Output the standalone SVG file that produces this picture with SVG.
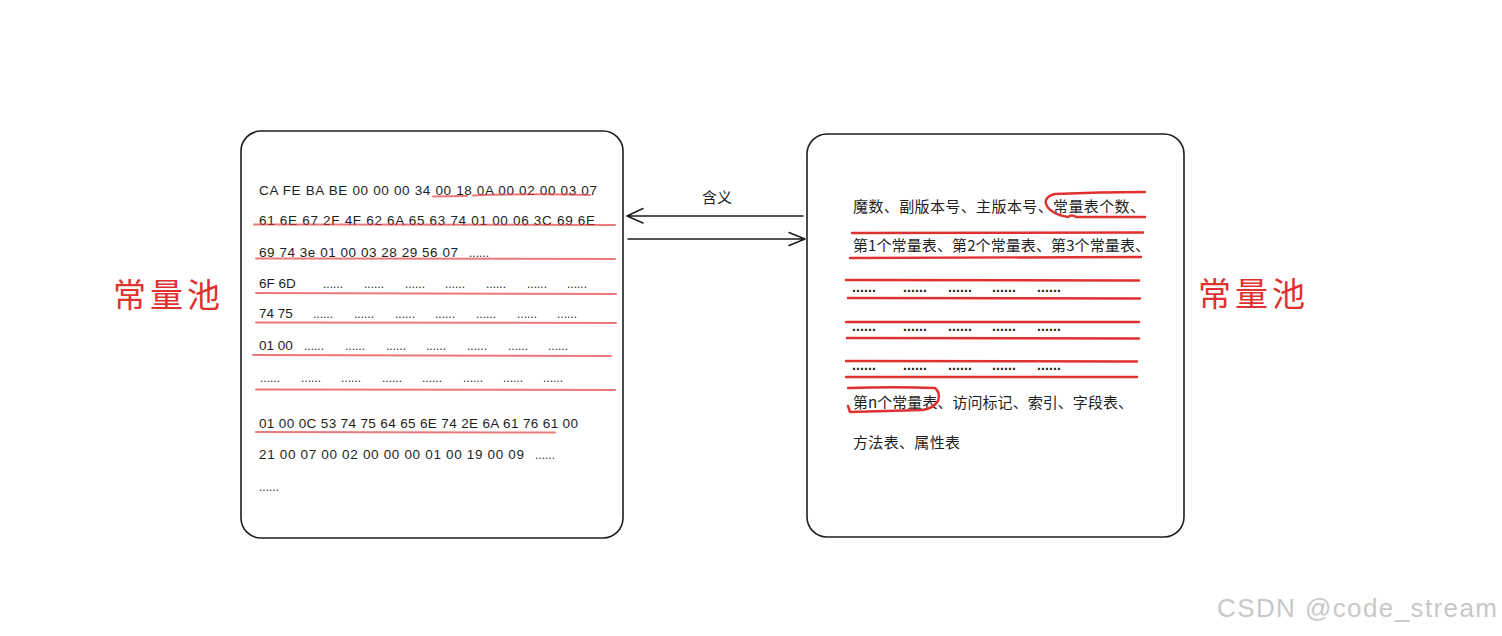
<svg xmlns="http://www.w3.org/2000/svg" width="1502" height="636" viewBox="0 0 1502 636">
<style>
.box{fill:#fff;stroke:#1e1e1e;stroke-width:1.6}
.hex{font-family:"Liberation Sans","Noto Sans CJK SC",sans-serif;font-size:13.5px;fill:#1e1e1e}
.dl{font-family:"Liberation Sans",sans-serif;font-size:12px;fill:#1e1e1e}
.dr{font-family:"Liberation Sans",sans-serif;font-size:14px;font-weight:bold;fill:#1e1e1e}
.cn{font-family:"Noto Sans CJK SC","Noto Sans CJK JP",sans-serif;font-size:15px;fill:#1e1e1e}
.big{font-family:"Noto Sans CJK SC","Noto Sans CJK JP",sans-serif;font-size:33px;fill:#e03131;letter-spacing:4px}
.ul{fill:none;stroke:#e03131;stroke-opacity:0.65;stroke-width:2;stroke-linecap:round}
.ur{fill:none;stroke:#e03131;stroke-width:2.4;stroke-linecap:round;stroke-linejoin:round}
.ar{fill:none;stroke:#1e1e1e;stroke-width:1.5;stroke-linecap:round;stroke-linejoin:round}
.wm{font-family:"Liberation Sans",sans-serif;font-size:26px;fill:#c8c8c8}
</style>
<rect width="1502" height="636" fill="#fff"/>

<g id="left-box">
<rect class="box" x="241" y="131" width="382" height="407" rx="20"/>
<text class="hex" x="259" y="195" textLength="338" lengthAdjust="spacing">CA FE BA BE 00 00 00 34 00 18 0A 00 02 00 03 07</text>
<text class="hex" x="259" y="225" textLength="336" lengthAdjust="spacing">61 6E 67 2F 4F 62 6A 65 63 74 01 00 06 3C 69 6E</text>
<text class="hex" x="259" y="257" textLength="199" lengthAdjust="spacing">69 74 3e 01 00 03 28 29 56 07</text>
<text class="dl" x="469" y="257" textLength="20">......</text>
<text class="hex" x="259" y="288">6F 6D</text>
<g class="dl">
<text x="323" y="288" textLength="20">......</text><text x="364" y="288" textLength="20">......</text><text x="405" y="288" textLength="20">......</text><text x="445" y="288" textLength="20">......</text><text x="486" y="288" textLength="20">......</text><text x="527" y="288" textLength="20">......</text><text x="567" y="288" textLength="20">......</text>
</g>
<text class="hex" x="259" y="318">74 75</text>
<g class="dl">
<text x="313" y="318" textLength="20">......</text><text x="354" y="318" textLength="20">......</text><text x="395" y="318" textLength="20">......</text><text x="435" y="318" textLength="20">......</text><text x="476" y="318" textLength="20">......</text><text x="517" y="318" textLength="20">......</text><text x="557" y="318" textLength="20">......</text>
</g>
<text class="hex" x="259" y="350">01 00</text>
<g class="dl">
<text x="304" y="350" textLength="20">......</text><text x="345" y="350" textLength="20">......</text><text x="386" y="350" textLength="20">......</text><text x="426" y="350" textLength="20">......</text><text x="467" y="350" textLength="20">......</text><text x="508" y="350" textLength="20">......</text><text x="548" y="350" textLength="20">......</text>
</g>
<g class="dl">
<text x="260" y="382" textLength="20">......</text><text x="301" y="382" textLength="20">......</text><text x="341" y="382" textLength="20">......</text><text x="382" y="382" textLength="20">......</text><text x="422" y="382" textLength="20">......</text><text x="463" y="382" textLength="20">......</text><text x="503" y="382" textLength="20">......</text><text x="543" y="382" textLength="20">......</text>
</g>
<text class="hex" x="259" y="428" textLength="319" lengthAdjust="spacing">01 00 0C 53 74 75 64 65 6E 74 2E 6A 61 76 61 00</text>
<text class="hex" x="259" y="459" textLength="265" lengthAdjust="spacing">21 00 07 00 02 00 00 00 01 00 19 00 09</text>
<text class="dl" x="535" y="459" textLength="20">......</text>
<text class="dl" x="259" y="491" textLength="20">......</text>
<g id="left-underlines">
<path class="ul" d="M433 196.5 L467 196"/>
<path class="ul" d="M473 195.5 Q530 193.5 590 195"/>
<path class="ul" d="M254 224.5 L615 225"/>
<path class="ul" d="M256 258.5 L615 259"/>
<path class="ul" d="M256 293 L616 294"/>
<path class="ul" d="M256 322.5 L616 323"/>
<path class="ul" d="M253 355 L611 356"/>
<path class="ul" d="M256 389.5 L615 390"/>
<path class="ul" d="M256 432 L555 432.5"/>
</g>
</g>

<g id="right-box">
<rect class="box" x="807" y="134" width="377" height="403" rx="20"/>
<text class="cn" x="853" y="212" textLength="292" lengthAdjust="spacing">魔数、副版本号、主版本号、常量表个数、</text>
<text class="cn" x="853" y="251" textLength="297" lengthAdjust="spacing">第1个常量表、第2个常量表、第3个常量表、</text>
<g class="dr">
<text x="852" y="292" textLength="24">......</text><text x="903" y="292" textLength="24">......</text><text x="948" y="292" textLength="24">......</text><text x="992" y="292" textLength="24">......</text><text x="1037" y="292" textLength="24">......</text>
<text x="852" y="331" textLength="24">......</text><text x="903" y="331" textLength="24">......</text><text x="948" y="331" textLength="24">......</text><text x="992" y="331" textLength="24">......</text><text x="1037" y="331" textLength="24">......</text>
<text x="852" y="370" textLength="24">......</text><text x="903" y="370" textLength="24">......</text><text x="948" y="370" textLength="24">......</text><text x="992" y="370" textLength="24">......</text><text x="1037" y="370" textLength="24">......</text>
</g>
<text class="cn" x="853" y="408" textLength="280" lengthAdjust="spacing">第n个常量表、访问标记、索引、字段表、</text>
<text class="cn" x="853" y="448" textLength="107" lengthAdjust="spacing">方法表、属性表</text>
<g id="right-marks">
<path class="ur" d="M1145 192 Q1100 192 1055 194 Q1044 197 1046 204 Q1050 214 1068 217 Q1072 214 1076 217 L1145 217"/>
<path class="ur" d="M852 233 L1143 232.5"/>
<path class="ur" d="M850 258 L1141 257"/>
<path class="ur" d="M846 280 L1139 280.5"/>
<path class="ur" d="M848 298 L1140 298.5"/>
<path class="ur" d="M846 322 L1139 322"/>
<path class="ur" d="M847 338 L1139 338.5"/>
<path class="ur" d="M846 361 L1137 361.5"/>
<path class="ur" d="M846 377 L1137 377"/>
<path class="ur" d="M848 388 Q895 386.5 935 388 Q941 393 938 401 Q933 409 922 410 L850 412 L848 406"/>
</g>
</g>

<g id="label-left">
<text class="big" x="113" y="307">常量池</text>
</g>
<g id="label-right">
<text class="big" x="1198" y="306">常量池</text>
</g>

<g id="connectors">
<path class="ar" d="M803 216 L627 216 M643 208.5 L627 216 L643 223"/>
<path class="ar" d="M628 239 L805 239 M789 232.5 L805 239 L789 245.5"/>
<text class="cn" x="717" y="203" text-anchor="middle">含义</text>
</g>

<text class="wm" x="1217" y="617" textLength="280" lengthAdjust="spacing">CSDN @code_stream</text>
</svg>
